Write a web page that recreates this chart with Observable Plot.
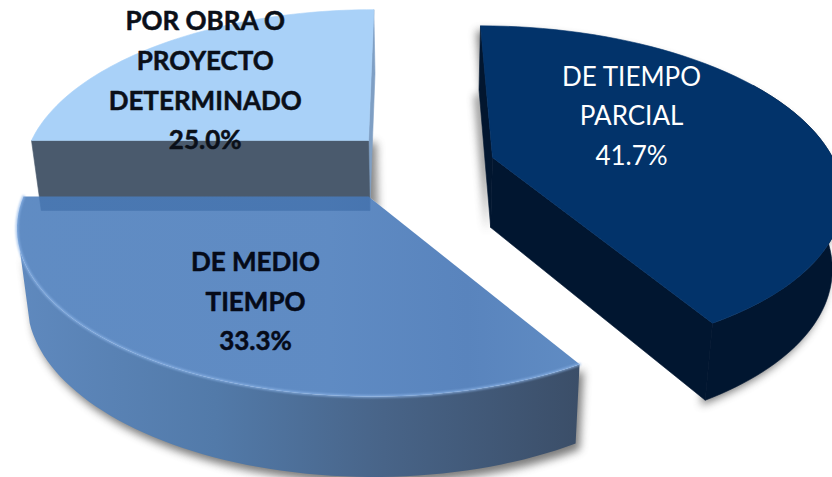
<!DOCTYPE html>
<html><head><meta charset="utf-8">
<style>html,body{margin:0;padding:0;background:#fff}svg{display:block}</style>
<script src="https://cdn.jsdelivr.net/npm/d3@7"></script>
<script src="https://cdn.jsdelivr.net/npm/@observablehq/plot@0.6"></script>
</head><body><div id="chart"></div>
<script>
// Data
const categories = ["DE TIEMPO\nPARCIAL", "DE MEDIO\nTIEMPO", "POR OBRA O\nPROYECTO\nDETERMINADO"];
const shares = [41.7, 33.3, 25.0];

// Pie geometry (layout only)
const layouts = [
  {cx: 492, cy: 157, rx: 340, ry: 158, x0: 420, depth: 70, lf: 0.6, dx: -50, dy: -21, color: "#fff", weight: 400, halo: 0},
  {cx: 368, cy: 196, rx: 345, ry: 160, x0: 353, depth: 72, lf: 0.6, dx: 1, dy: 9, color: "#050a18", weight: 700, halo: 0.5},
  {cx: 368, cy: 140, rx: 337, ry: 157, x0: 400, depth: 70, lf: 0.6, dx: -34, dy: -2, color: "#0a0f18", weight: 700, halo: 0.5}
];
const P = 0.2, SHRINK = 0.975, VANISH = 420;
let acc = 0;
const slices = shares.map((v, i) => {
  const a0 = acc * 3.6; acc += v;
  return {...layouts[i], value: v, label: categories[i], a0, a1: acc * 3.6};
});
function pt(s, deg, f = 1, depth = 0) {
  const t = deg * Math.PI / 180, u = Math.sin(t) * f, v = -Math.cos(t) * f;
  const w = 1 / (1 - P * v);
  let x = s.x0 + (s.cx - s.x0 + s.rx * u) * w, y = s.cy + s.ry * v * w;
  if (depth) { x = VANISH + (x - VANISH) * SHRINK; y += depth * Math.sqrt(w); }
  return {x, y};
}
const arc = (s, a, b, depth = 0) => d3.range(0, 61).map(i => pt(s, a + (b - a) * i / 60, 1, depth));
const apex = (s, depth = 0) => pt(s, 0, 0, depth);
const top_ = s => [apex(s), ...arc(s, s.a0, s.a1)];
const strip = (s, a, b) => [...arc(s, a, b), ...arc(s, b, a, s.depth)];
const quad = (s, a) => [apex(s), pt(s, a), pt(s, a, 1, s.depth), apex(s, s.depth)];
const face = (pts, fill, extra = {}) => Plot.line([...pts, pts[0]], {x: "x", y: "y", fill, stroke: "none", ...extra});
const solid = (pts, fill) => face(pts, fill, {stroke: fill, strokeWidth: 0.6});

const [dark, mid, light] = slices;
const silhouette = s => [apex(s), ...arc(s, s.a0, s.a1), ...arc(s, s.a1, s.a0, s.depth), apex(s, s.depth)];

const defs = () => {
  const svg = d3.create("svg:defs");
  const grad = (id, stops) => {
    const g = svg.append("linearGradient").attr("id", id).attr("x1", 0).attr("x2", 1).attr("y1", 0).attr("y2", 0);
    stops.forEach(([o, c]) => g.append("stop").attr("offset", o).attr("stop-color", c));
  };
  grad("midSide", [[0, "#5f89be"], [0.35, "#527aa9"], [0.65, "#486488"], [1, "#3b4e68"]]);
  grad("midTop", [[0, "#4a7cbb"], [0.55, "#497bbb"], [0.8, "#4273b4"], [1, "#4a7cbb"]]);
  return svg.node();
};

const pct = d3.format(".1f");
const labels = slices.map(s => {
  const p = pt(s, (s.a0 + s.a1) / 2, s.lf);
  return {x: p.x + s.dx, y: p.y + s.dy, text: `${s.label}\n${pct(s.value)}%`, color: s.color, weight: s.weight, halo: s.halo};
});
const textMark = d => Plot.text([d], {
  x: "x", y: "y", text: "text", fill: d.color, stroke: d.halo ? d.color : "none", strokeWidth: d.halo,
  fontSize: 26, fontWeight: d.weight, fontFamily: "Lato", lineHeight: 1.52, lineAnchor: "middle", textAnchor: "middle"
});

const plot = Plot.plot({
  width: 832, height: 477, margin: 0,
  x: {axis: null, domain: [0, 832], range: [0, 832]},
  y: {axis: null, domain: [0, 477], range: [0, 477]},
  marks: [
    defs,
    // shadows
    face(silhouette(dark), "#444", {dx: -4, dy: 5, ariaDescription: "shadow"}),
    face(quad(light, light.a0), "#555", {dx: 8, dy: 2, ariaDescription: "shadow"}),
    face(strip(mid, mid.a0, 252), "#444", {dx: 4, dy: 6, ariaDescription: "shadow"}),
    // dark slice
    solid(quad(dark, dark.a0), "#02162f"),
    solid(strip(dark, dark.a0 + 60, dark.a1), "#011630"),
    solid(quad(dark, dark.a1), "#011630"),
    solid(top_(dark), "#02336a"),
    // medium slice: side, then a white base so only the light slice shows through
    face(strip(mid, mid.a0, 252), "url(#midSide)"),
    face(top_(mid), "#fff"),
    // light slice
    solid(quad(light, light.a1), "#7f9fc4"),
    solid(quad(light, light.a0), "#4a5a6d"),
    solid(top_(light), "#a9d1f8"),
    // medium top, translucent over the light slice's base
    face(top_(mid), "url(#midTop)", {fillOpacity: 0.88}),
    Plot.line(arc(mid, mid.a0, mid.a1), {x: "x", y: "y", stroke: "#8db5e8", strokeWidth: 2.5, strokeOpacity: 0.8, ariaDescription: "rim"}),
    ...labels.map(textMark)
  ]
});
d3.select(plot).selectAll('g[aria-description="shadow"]').style("filter", "blur(4px)").style("opacity", 0.7);
d3.select(plot).selectAll('g[aria-description="rim"]').style("filter", "blur(1px)");
document.getElementById("chart").append(plot);
</script></body></html>
